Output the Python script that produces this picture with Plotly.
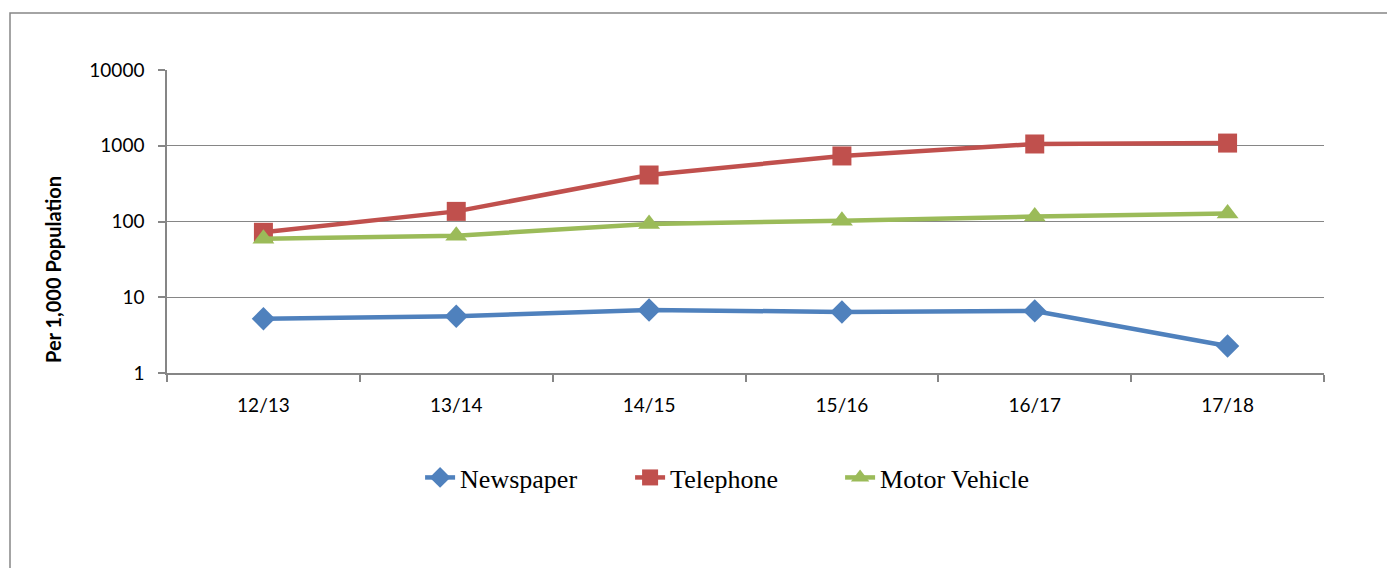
import plotly.graph_objects as go

# Годы (финансовые)
years = ["12/13", "13/14", "14/15", "15/16", "16/17", "17/18"]

# Показатели на 1000 человек населения
newspaper = [5.2, 5.6, 6.8, 6.4, 6.6, 2.27]
telephone = [72, 136, 411, 733, 1055, 1085]
motor_vehicle = [59, 65, 93, 102, 116, 128]

grid_color = "#868686"

fig = go.Figure()

# Линии серий
fig.add_trace(go.Scatter(
    x=years, y=newspaper, name="Newspaper", mode="lines+markers",
    line=dict(color="#4F81BD", width=4.5),
    marker=dict(symbol="diamond", size=18, color="#4F81BD"),
))
fig.add_trace(go.Scatter(
    x=years, y=telephone, name="Telephone", mode="lines+markers",
    line=dict(color="#C0504D", width=4.5),
    marker=dict(symbol="square", size=19, color="#C0504D"),
))
fig.add_trace(go.Scatter(
    x=years, y=motor_vehicle, name="Motor Vehicle", mode="lines+markers",
    line=dict(color="#9BBB59", width=4.5),
    marker=dict(symbol="triangle-up", size=19, color="#9BBB59"),
))

# страница имеет отступ 8px, поэтому поля смещены
fig.update_layout(
    width=1395, height=568,
    margin=dict(l=159, r=79, t=62, b=203),
    paper_bgcolor="white", plot_bgcolor="white",
    font=dict(family="Lato, Open Sans, sans-serif", size=19, color="black"),
    legend=dict(
        orientation="h", x=0.491, y=-0.345, xanchor="center", yanchor="middle",
        font=dict(family="Liberation Serif, Times New Roman, serif", size=26, color="black"),
        entrywidth=165, traceorder="normal",
    ),
    xaxis=dict(
        type="category", range=[-0.5, 5.5], tickson="boundaries",
        ticks="outside", ticklen=7, tickcolor=grid_color, tickwidth=1.5,
        showline=True, linecolor=grid_color, linewidth=1.5,
        showgrid=False, tickfont=dict(size=19), ticklabelstandoff=14,
    ),
    yaxis=dict(
        type="log", range=[0, 4],
        tickvals=[1, 10, 100, 1000, 10000],
        ticktext=["1", "10", "100", "1000", "10000"],
        ticks="outside", ticklen=7, tickcolor=grid_color, tickwidth=1.5,
        showline=True, linecolor=grid_color, linewidth=1.5,
        showgrid=True, gridcolor=grid_color, gridwidth=1.2,
        tickfont=dict(size=19), zeroline=False, ticklabelstandoff=10,
    ),
)

# Подпись оси Y
fig.add_annotation(
    text="<b>Per 1,000 Population</b>", textangle=-90,
    xref="paper", yref="paper", x=(53 - 167) / 1157, y=(373 - 269) / 303,
    xanchor="center", yanchor="middle", showarrow=False,
    font=dict(family="Lato, sans-serif", size=20, color="black"),
)

# Рамка вокруг диаграммы
fig.add_shape(
    type="rect", xref="paper", yref="paper",
    x0=(10 - 167) / 1157, y0=-1.0, x1=1.2, y1=(373 - 13) / 303,
    line=dict(color=grid_color, width=1.5), layer="below",
)

fig.write_html("out.html")
